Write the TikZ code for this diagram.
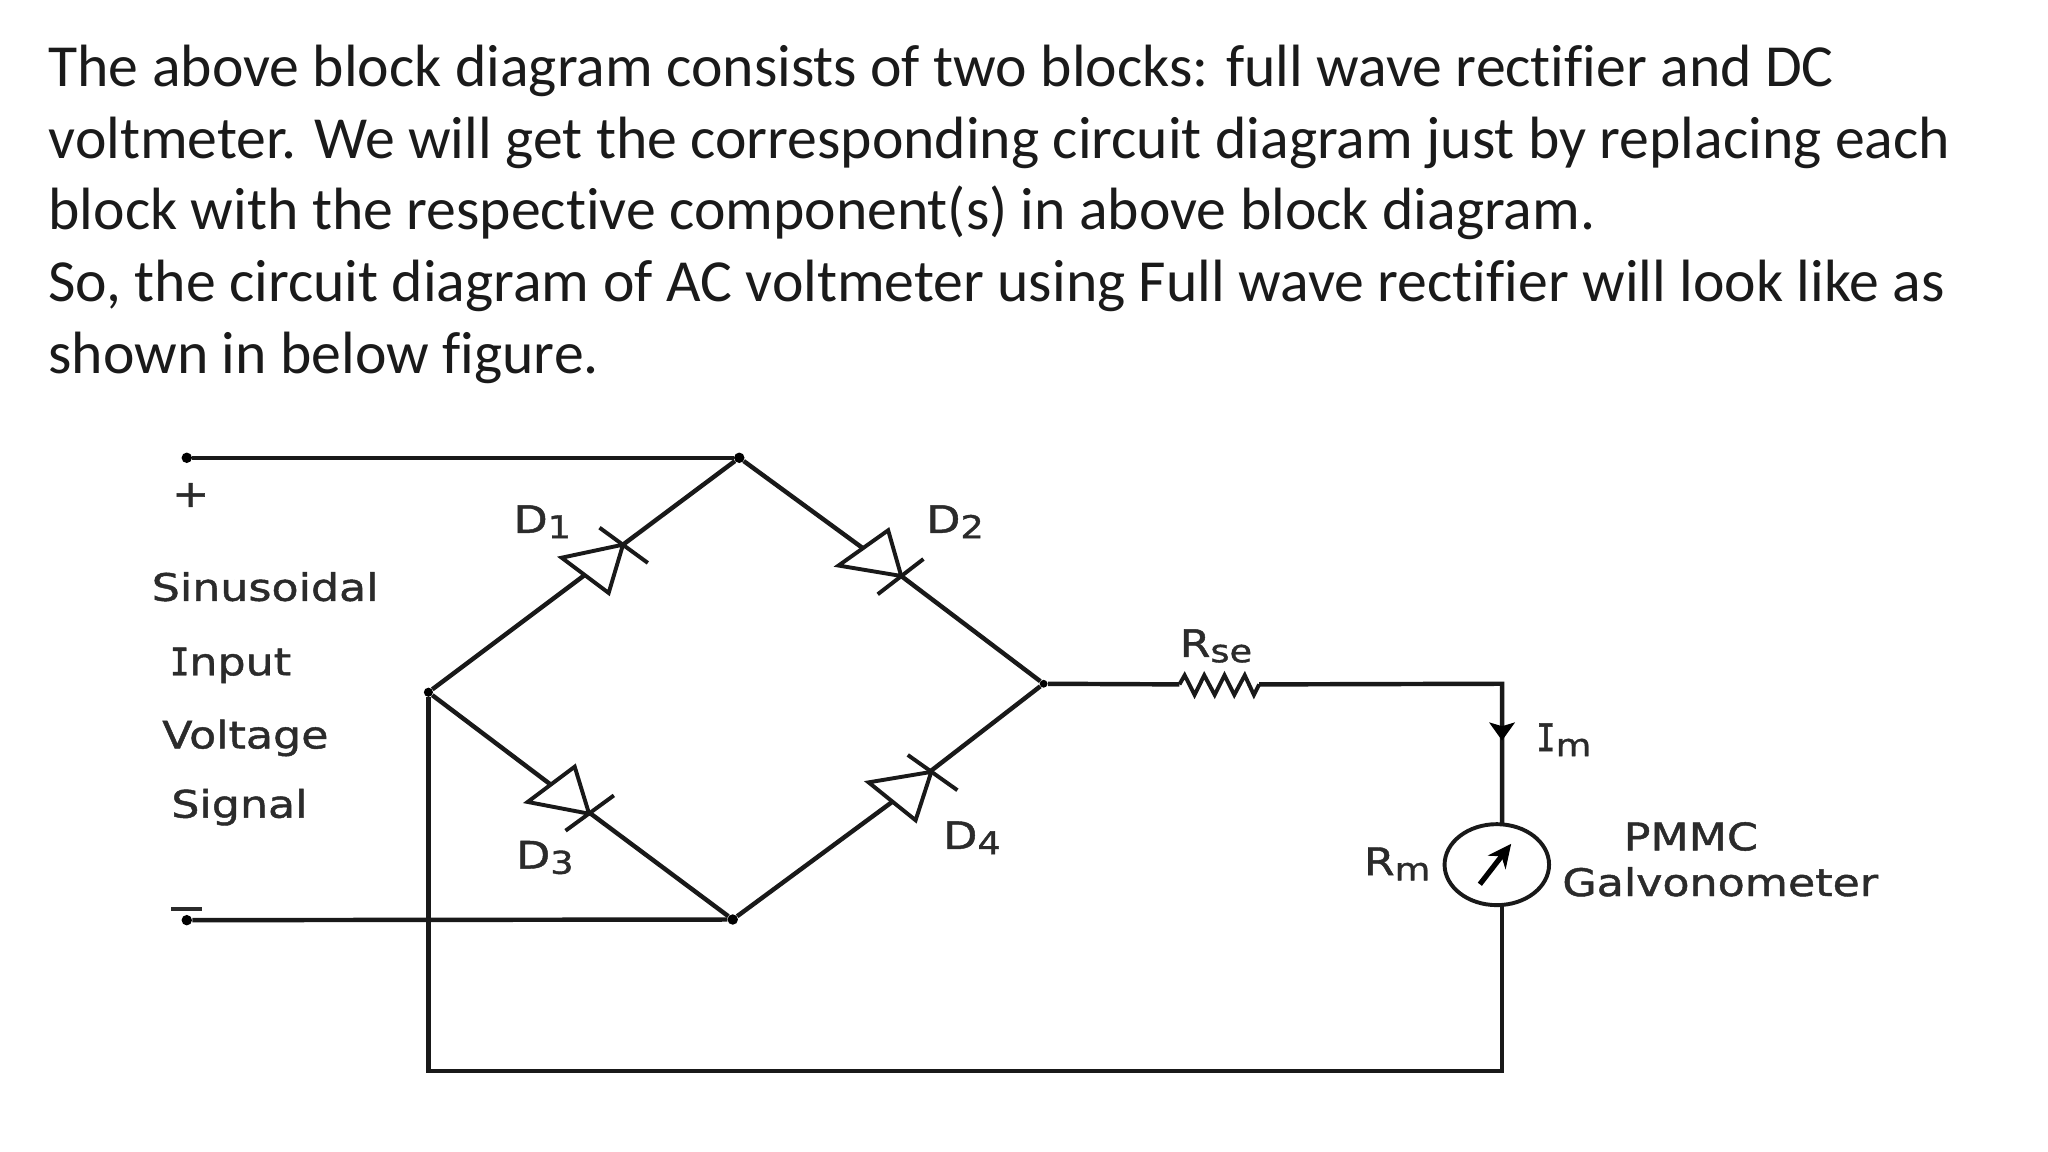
\documentclass[tikz,border=0pt]{standalone}
\usepackage{fontspec}
\usetikzlibrary{arrows.meta,shapes.geometric}
\setmainfont[Ligatures=NoCommon]{Carlito}
\newfontfamily\cf[FakeStretch=1.17,FakeBold=1.2]{DejaVu Sans}
\newfontfamily\imo[FakeStretch=0.85,FakeBold=1.2]{DejaVu Sans Mono}
\definecolor{ink}{HTML}{1A1A1A}
\definecolor{cct}{HTML}{2B2B2B}
\newcommand{\subsc}[1]{\raisebox{-4pt}{\fontsize{24}{24}\selectfont #1}}
\tikzset{
  x=1pt,y=-1pt,
  para/.style={anchor=base west,inner sep=0pt,text=ink,font=\fontsize{45.7}{45.7}\selectfont},
  lab/.style={anchor=base west,inner sep=0pt,text=cct,font=\cf\fontsize{29}{29}\selectfont},
  wire/.style={draw=black!90,line width=3.4pt,line join=miter},
  thin wire/.style={draw=black!90,line width=3pt},
  dot/.style={circle,fill=black,inner sep=0pt,minimum size=8pt},
}
\begin{document}
\begin{tikzpicture}
\useasboundingbox (0,0) rectangle (1568,882);
\fill[white] (0,0) rectangle (1568,882);
% paragraph
\node[para] (p1) at (37,66) {The above block diagram consists of two blocks: full wave rectifier and DC};
\node[para] (p2) at (37,121) {voltmeter. We will get the corresponding circuit diagram just by replacing each};
\node[para] (p3) at (37,176) {block with the respective component(s) in above block diagram.};
\node[para] (p4) at (37,231) {So, the circuit diagram of AC voltmeter using Full wave rectifier will look like as};
\node[para] (p5) at (37,286) {shown in below figure.};
% junctions
\node[dot] (in1) at (143,350.5) {};
\node[dot] (in2) at (143,704.5) {};
\node[dot] (T) at (566,350.5) {};
\node[dot,minimum size=7pt] (L) at (328,530) {};
\node[dot] (B) at (561,704) {};
\node[dot,minimum size=6pt] (R) at (799,523.5) {};
\coordinate (TR) at (1150,523.5);
\coordinate (BR) at (1150,820);
\coordinate (BL) at (328,820);
% diode terminals
\coordinate (d1a) at (448,440); \coordinate (d1c) at (477,417);
\coordinate (d2a) at (661,420); \coordinate (d2c) at (690,441);
\coordinate (d3a) at (422,601); \coordinate (d3c) at (451,622);
\coordinate (d4a) at (683,614); \coordinate (d4c) at (713,590);
\coordinate (rs) at (903,524); \coordinate (re) at (964,524);
% meter
\node[ellipse,draw=black!90,line width=3pt,minimum width=80pt,minimum height=62pt,inner sep=0pt] (G) at (1146,662) {};
% wires
\draw[wire] (in1) -- (T);
\draw[wire] (in2) -- (B);
\draw[wire] (L) -- (d1a);
\draw[wire] (d1c) -- (T);
\draw[wire] (T) -- (d2a);
\draw[wire] (d2c) -- (R);
\draw[wire] (L) -- (d3a);
\draw[wire] (d3c) -- (B);
\draw[wire] (B) -- (d4a);
\draw[wire] (d4c) -- (R);
\draw[wire] (R) -- (rs);
\draw[wire] (re) -- (TR) -- (1150,630);
\draw[wire] (1150,694) -- (BR) -- (BL) -- (L);
% diodes
\draw[thin wire,line join=miter] (430,427) -- (466,454) -- (477,417) -- cycle;
\draw[thin wire] (459,404) -- (496,431);
\draw[thin wire,line join=miter] (642,433) -- (680,406) -- (690,441) -- cycle;
\draw[thin wire] (672,455) -- (707,428);
\draw[thin wire,line join=miter] (404,614) -- (440,587) -- (451,623) -- cycle;
\draw[thin wire] (470,609) -- (433,636);
\draw[thin wire,line join=miter] (665,599) -- (701,628) -- (713,591) -- cycle;
\draw[thin wire] (695,578) -- (733,605);
% resistor
\draw[thin wire,line join=miter] (rs) -- (907,517) -- (914.6,532) -- (922,517) -- (930,532) -- (937.5,517) -- (945,532) -- (953,517) -- (960,532) -- (re);
% current arrow
\fill[black] (1140,553) -- (1150,556) -- (1160,553) -- (1150,567) -- cycle;
% meter needle
\draw[line width=4pt,-{Stealth[length=18pt,width=17pt]}] (1133,677) -- (1157,646);
% labels
\node[lab] (lplus) at (146,379) [anchor=center] {+};
\node[inner sep=0pt,minimum width=24pt,minimum height=3pt,fill=cct] (lminus) at (143,696) {};
\node[lab] (s1) at (116,460) {Sinusoidal};
\node[lab] (s2) at (130,517) {{\imo I}nput};
\node[lab] (s3) at (124,573) {Voltage};
\node[lab] (s4) at (131,626) {Signal};
\node[lab] (D1) at (393,408) {D\subsc{1}};
\node[lab] (D2) at (709,408) {D\subsc{2}};
\node[lab] (D3) at (395,665) {D\subsc{3}};
\node[lab] (D4) at (722,650) {D\subsc{4}};
\node[lab] (Rse) at (903,503) {R\subsc{se}};
\node[lab] (Im) at (1176,575) {{\imo I}\subsc{m}};
\node[lab] (Rm) at (1044,670) {R\subsc{m}};
\node[lab] (PM) at (1243,651) {PMMC};
\node[lab] (Ga) at (1196,686) {Galvonometer};
\end{tikzpicture}
\end{document}
